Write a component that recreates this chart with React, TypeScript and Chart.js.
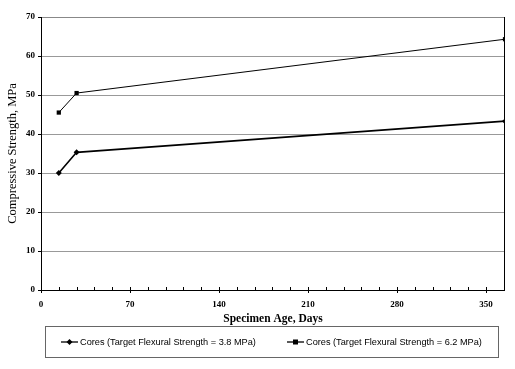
import React, { useEffect, useRef } from "react";
import { Chart, registerables } from "chart.js";

Chart.register(...registerables);

const ages = [14, 28, 365];
const cores38 = [30.0, 35.3, 43.3];
const cores62 = [45.5, 50.5, 64.3];
const xTickValues = [0, 70, 140, 210, 280, 350];
const seriesLabels = [
  "Cores (Target Flexural Strength = 3.8 MPa)",
  "Cores (Target Flexural Strength = 6.2 MPa)",
];
const xTitle = "Specimen Age, Days";
const yTitle = "Compressive Strength, MPa";

const serif = "'Liberation Serif', 'Times New Roman', serif";
const sans = "'Liberation Sans', Arial, sans-serif";

const framePlugin = {
  id: "frame",
  afterDraw(chart: any) {
    const { ctx, chartArea } = chart;
    const { left, right, top, bottom } = chartArea;
    const xs = chart.scales.x;
    const ys = chart.scales.y;
    ctx.save();
    ctx.lineWidth = 1;
    ctx.beginPath();
    ctx.strokeStyle = "#888";
    ctx.moveTo(left, Math.round(top) + 0.5);
    ctx.lineTo(right, Math.round(top) + 0.5);
    ctx.stroke();
    ctx.strokeStyle = "#000";
    ctx.beginPath();
    ctx.moveTo(Math.round(left) + 0.5, top);
    ctx.lineTo(Math.round(left) + 0.5, bottom + 0.5);
    ctx.moveTo(left, Math.round(bottom) + 0.5);
    ctx.lineTo(right, Math.round(bottom) + 0.5);
    ctx.moveTo(Math.round(right) - 0.5, top);
    ctx.lineTo(Math.round(right) - 0.5, bottom);
    ctx.stroke();
    ctx.beginPath();
    for (let v = 0; v <= xs.max; v += 14) {
      const px = Math.round(xs.getPixelForValue(v)) + 0.5;
      const major = v % 70 === 0;
      ctx.moveTo(px, bottom - 3);
      ctx.lineTo(px, major ? bottom + 3 : bottom);
    }
    for (let v = ys.min; v <= ys.max; v += 10) {
      const py = Math.round(ys.getPixelForValue(v)) + 0.5;
      ctx.moveTo(left - 3, py);
      ctx.lineTo(left, py);
    }
    ctx.stroke();
    ctx.restore();
  },
};

const legendPlugin = {
  id: "boxLegend",
  afterDraw(chart: any) {
    const { ctx } = chart;
    const bx = 45, by = 326, bw = 453, bh = 31;
    ctx.save();
    ctx.fillStyle = "#777";
    ctx.fillRect(bx + 1, by + bh, bw, 1);
    ctx.fillRect(bx + bw, by + 1, 1, bh);
    ctx.strokeStyle = "#666";
    ctx.lineWidth = 1;
    ctx.strokeRect(bx + 0.5, by + 0.5, bw, bh);
    const cy = by + bh / 2 + 0.5;
    const items = [
      { x: 61, label: seriesLabels[0], style: "diamond" },
      { x: 287, label: seriesLabels[1], style: "square" },
    ];
    ctx.font = `9.2px ${sans}`;
    ctx.textBaseline = "middle";
    ctx.textAlign = "left";
    for (const it of items) {
      ctx.strokeStyle = "#000";
      ctx.lineWidth = 1.3;
      ctx.beginPath();
      ctx.moveTo(it.x, cy);
      ctx.lineTo(it.x + 17, cy);
      ctx.stroke();
      const mx = it.x + 8.5;
      ctx.fillStyle = "#000";
      ctx.beginPath();
      if (it.style === "diamond") {
        ctx.moveTo(mx, cy - 3);
        ctx.lineTo(mx + 3, cy);
        ctx.lineTo(mx, cy + 3);
        ctx.lineTo(mx - 3, cy);
        ctx.closePath();
        ctx.fill();
      } else {
        ctx.fillRect(mx - 2.5, cy - 2.5, 5, 5);
      }
      ctx.fillText(it.label, it.x + 19, cy);
    }
    ctx.restore();
  },
};

export default function App() {
  const ref = useRef<HTMLCanvasElement | null>(null);
  useEffect(() => {
    document.body.style.margin = "0";
    const canvas = ref.current;
    if (!canvas) return;
    const chart = new Chart(canvas, {
      type: "scatter",
      data: {
        datasets: [
          {
            label: seriesLabels[0],
            data: ages.map((a, i) => ({ x: a, y: cores38[i] })),
            showLine: true,
            borderColor: "#000",
            backgroundColor: "#000",
            borderWidth: 1.6,
            pointStyle: "rectRot",
            pointRadius: 3,
            pointBorderWidth: 0,
          },
          {
            label: seriesLabels[1],
            data: ages.map((a, i) => ({ x: a, y: cores62[i] })),
            showLine: true,
            borderColor: "#000",
            backgroundColor: "#000",
            borderWidth: 1,
            pointStyle: "rect",
            pointRadius: 3,
            pointBorderWidth: 0,
          },
        ],
      },
      options: {
        responsive: false,
        animation: false,
        events: [],
        layout: { padding: { top: 17, right: 10, left: 0, bottom: 39 } },
        plugins: {
          legend: { display: false },
          tooltip: { enabled: false },
        },
        scales: {
          x: {
            type: "linear",
            min: 0,
            max: 365,
            afterBuildTicks: (s: any) => {
              s.ticks = xTickValues.map((v) => ({ value: v }));
            },
            afterFit: (s: any) => {
              s.height = 40;
            },
            grid: { display: false, drawTicks: false },
            border: { display: false },
            ticks: {
              padding: 9,
              color: "#000",
              font: { family: serif, size: 9, weight: "bold" },
              maxRotation: 0,
            },
            title: {
              display: true,
              text: xTitle,
              color: "#000",
              font: { family: serif, size: 11.5, weight: "bold" },
              padding: { top: 0, bottom: 4 },
            },
          },
          y: {
            min: 0,
            max: 70,
            afterFit: (s: any) => {
              s.width = 41;
            },
            ticks: {
              stepSize: 10,
              padding: 6,
              color: "#000",
              font: { family: serif, size: 9, weight: "bold" },
            },
            grid: { color: "#999", lineWidth: 1, drawTicks: false },
            border: { display: false },
            title: {
              display: true,
              text: yTitle,
              color: "#000",
              font: { family: serif, size: 12.5, weight: "normal" },
              padding: { top: 5, bottom: 0 },
            },
          },
        },
      },
      plugins: [framePlugin, legendPlugin],
    } as any);
    return () => chart.destroy();
  }, []);
  return (
    <div style={{ width: 515, height: 369, background: "#fff" }}>
      <canvas ref={ref} width={515} height={369} />
    </div>
  );
}
